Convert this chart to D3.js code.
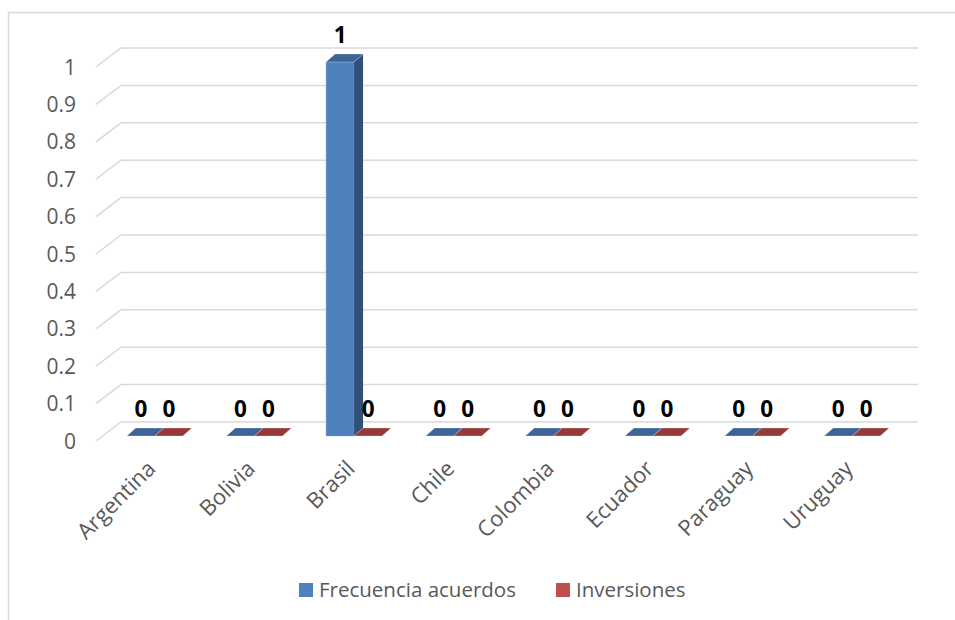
<!DOCTYPE html>
<html>
<head>
<meta charset="utf-8">
<script src="https://cdn.jsdelivr.net/npm/d3@7"></script>
<style>
  body { margin: 0; background: #fff; }
  svg { display: block; }
  text { font-family: "Open Sans", "Liberation Sans", sans-serif; }
</style>
</head>
<body>
<div id="chart"></div>
<script>
// data
const countries = ["Argentina", "Bolivia", "Brasil", "Chile", "Colombia", "Ecuador", "Paraguay", "Uruguay"];
const seriesNames = ["Frecuencia acuerdos", "Inversiones"];
const acuerdos = [0, 0, 1, 0, 0, 0, 0, 0];
const inversiones = [0, 0, 0, 0, 0, 0, 0, 0];
const yTicks = [0, 0.1, 0.2, 0.3, 0.4, 0.5, 0.6, 0.7, 0.8, 0.9, 1];

const colors = {
  "Frecuencia acuerdos": { front: "#4F81BD", side: "#30507A", top: "#3C6496" },
  "Inversiones":         { front: "#C0504D", side: "#8C3A38", top: "#953A38" }
};

const W = 955, H = 620;
const wall = { dx: 25, dy: -19 };   // oblique depth of the walls
const barOff = { dx: 9, dy: -5 };   // where the bar's front face sits
const barDepth = { dx: 9, dy: -8 }; // bar thickness

const svg = d3.select("#chart").append("svg")
  .attr("width", W).attr("height", H);

// chart frame (clipped on the right/bottom in the original)
svg.append("path")
  .attr("d", `M8.5,${H} V12.5 H${W}`)
  .attr("fill", "none").attr("stroke", "#D9D9D9").attr("stroke-width", 1.5);

const x = d3.scaleBand().domain(countries).range([96, 893]);
const xs = d3.scaleBand().domain(seriesNames).range([0, 56]);
const y = d3.scaleLinear().domain([0, 1]).range([441, 67]);

// gridlines: side wall diagonal + back wall
const grid = svg.append("g");
yTicks.forEach(t => {
  const yf = y(t);
  grid.append("path")
    .attr("d", `M${x.range()[0]},${yf} L${x.range()[0] + wall.dx},${yf + wall.dy} H${x.range()[1] + wall.dx}`)
    .attr("fill", "none").attr("stroke", "#D9D9D9").attr("stroke-width", 1.5);
});

// y tick labels
svg.append("g").selectAll("text").data(yTicks).join("text")
  .attr("x", 76).attr("y", d => y(d))
  .attr("dy", "0.36em")
  .attr("text-anchor", "end")
  .attr("font-size", 21).attr("fill", "#595959")
  .text(d => d3.format("~g")(d));

// bars
const rows = [];
countries.forEach((c, i) => {
  rows.push({ country: c, series: seriesNames[0], value: acuerdos[i] });
  rows.push({ country: c, series: seriesNames[1], value: inversiones[i] });
});

const bars = svg.append("g");
rows.forEach(d => {
  const x0 = x(d.country) + x.bandwidth() / 2 + barOff.dx - xs.range()[1] / 2 + xs(d.series);
  const x1 = x0 + xs.bandwidth();
  const yb = y(0) + barOff.dy;
  const yt = y(d.value) + barOff.dy;
  const col = colors[d.series];
  const g = bars.append("g");
  // front
  g.append("rect")
    .attr("x", x0).attr("y", yt).attr("width", x1 - x0).attr("height", yb - yt)
    .attr("fill", col.front).attr("stroke", "#7FA3D0").attr("stroke-width", d.value ? 0.6 : 0)
    .attr("stroke-opacity", 0.6);
  // side
  if (d.value) {
    g.append("path")
      .attr("d", `M${x1},${yb} L${x1 + barDepth.dx},${yb + barDepth.dy} L${x1 + barDepth.dx},${yt + barDepth.dy} L${x1},${yt} Z`)
      .attr("fill", col.side);
  }
  // top
  g.append("path")
    .attr("d", `M${x0},${yt} L${x1},${yt} L${x1 + barDepth.dx},${yt + barDepth.dy} L${x0 + barDepth.dx},${yt + barDepth.dy} Z`)
    .attr("fill", col.top).attr("stroke", "#ffffff").attr("stroke-width", 0.5).attr("stroke-opacity", 0.5);

  // data label
  g.append("text")
    .attr("x", (x0 + x1) / 2).attr("y", y(d.value) - 24)
    .attr("text-anchor", "middle")
    .attr("font-size", 22.5).attr("font-weight", "bold").attr("fill", "#000")
    .text(d.value);
});

// category labels
svg.append("g").selectAll("text").data(countries).join("text")
  .attr("transform", d => `translate(${x(d) + x.bandwidth() / 2 + 11},470) rotate(-45)`)
  .attr("text-anchor", "end")
  .attr("font-size", 22).attr("fill", "#595959")
  .text(d => d);

// legend
const legend = svg.append("g");
const legendItems = [
  { name: seriesNames[0], x: 299 },
  { name: seriesNames[1], x: 556 }
];
legendItems.forEach(it => {
  legend.append("rect")
    .attr("x", it.x).attr("y", 583).attr("width", 14).attr("height", 14)
    .attr("fill", colors[it.name].front);
  legend.append("text")
    .attr("x", it.x + 20).attr("y", 597)
    .attr("font-size", 20.5).attr("fill", "#595959")
    .text(it.name);
});
</script>
</body>
</html>
